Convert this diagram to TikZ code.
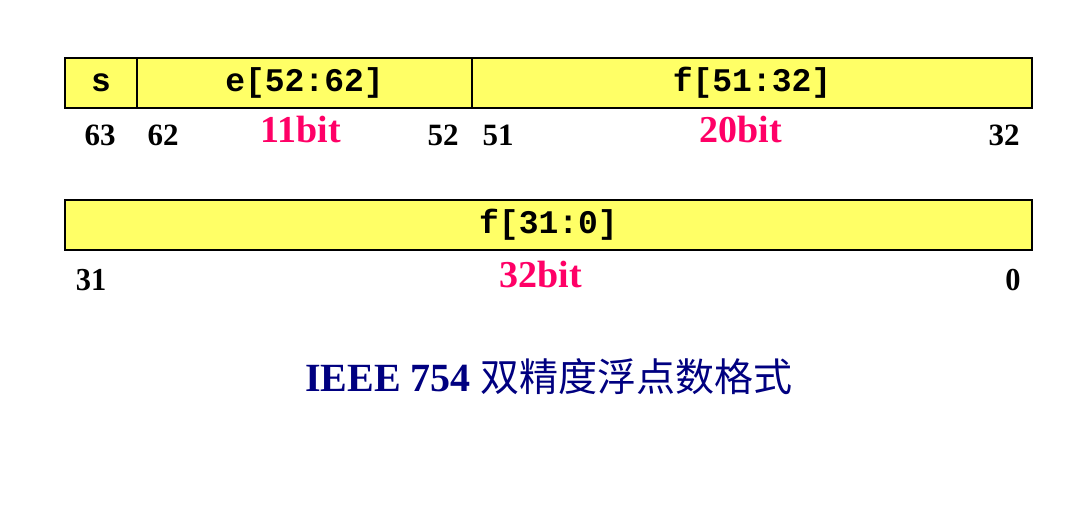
\documentclass[tikz,border=0pt]{standalone}
\usepackage{fontspec}
\setmainfont{Liberation Serif}
\setmonofont{Liberation Mono}
\newfontfamily\cjk{Noto Sans CJK SC}
\definecolor{boxyellow}{RGB}{255,255,102}
\definecolor{bitpink}{RGB}{255,0,102}
\definecolor{titlenavy}{RGB}{0,0,128}
\tikzset{
  field/.style={draw=black, fill=boxyellow, line width=2.6pt, inner sep=0pt, outer sep=0pt,
    minimum height=50pt, font=\ttfamily\bfseries\fontsize{33}{33}\selectfont},
  bitnum/.style={anchor=base, inner sep=0pt, font=\bfseries\fontsize{31}{31}\selectfont},
  bitnumc/.style={anchor=base, inner sep=0pt, font=\bfseries\fontsize{32}{32}\selectfont, xscale=0.95},
  bitlen/.style={anchor=base, inner sep=0pt, text=bitpink, font=\bfseries\fontsize{38}{38}\selectfont},
  title/.style={anchor=base, inner sep=0pt, text=titlenavy}
}
\begin{document}
\begin{tikzpicture}[x=1pt,y=-1pt]
\useasboundingbox[fill=white] (0,0) rectangle (1085,532);
% row 1
\node[field, minimum width=72pt] (s) at (101,83) {s};
\node[field, minimum width=335pt] (e) at (304.5,83) {e[52:62]};
\node[field, minimum width=560pt] (f1) at (752,83) {f[51:32]};
% row 2
\node[field, minimum width=967pt] (f2) at (548.5,225) {f[31:0]};
% bit numbers row 1
\node[bitnum] (n63) at (100,146) {63};
\node[bitnum] (n62) at (163,146) {62};
\node[bitlen] (l11) at (301,143) {11bit};
\node[bitnum] (n52) at (443,146) {52};
\node[bitnum] (n51) at (498,146) {51};
\node[bitlen] (l20) at (741,143) {20bit};
\node[bitnum] (n32) at (1004,146) {32};
% bit numbers row 2
\node[bitnumc] (n31) at (91,290) {31};
\node[bitlen] (l32) at (541,287) {32bit};
\node[bitnumc] (n0) at (1013,290) {0};
% title
\node[title] (t) at (549,391) {\bfseries\fontsize{40}{40}\selectfont IEEE 754 {\cjk\mdseries\fontsize{39}{39}\selectfont 双精度浮点数格式}};
\end{tikzpicture}
\end{document}
